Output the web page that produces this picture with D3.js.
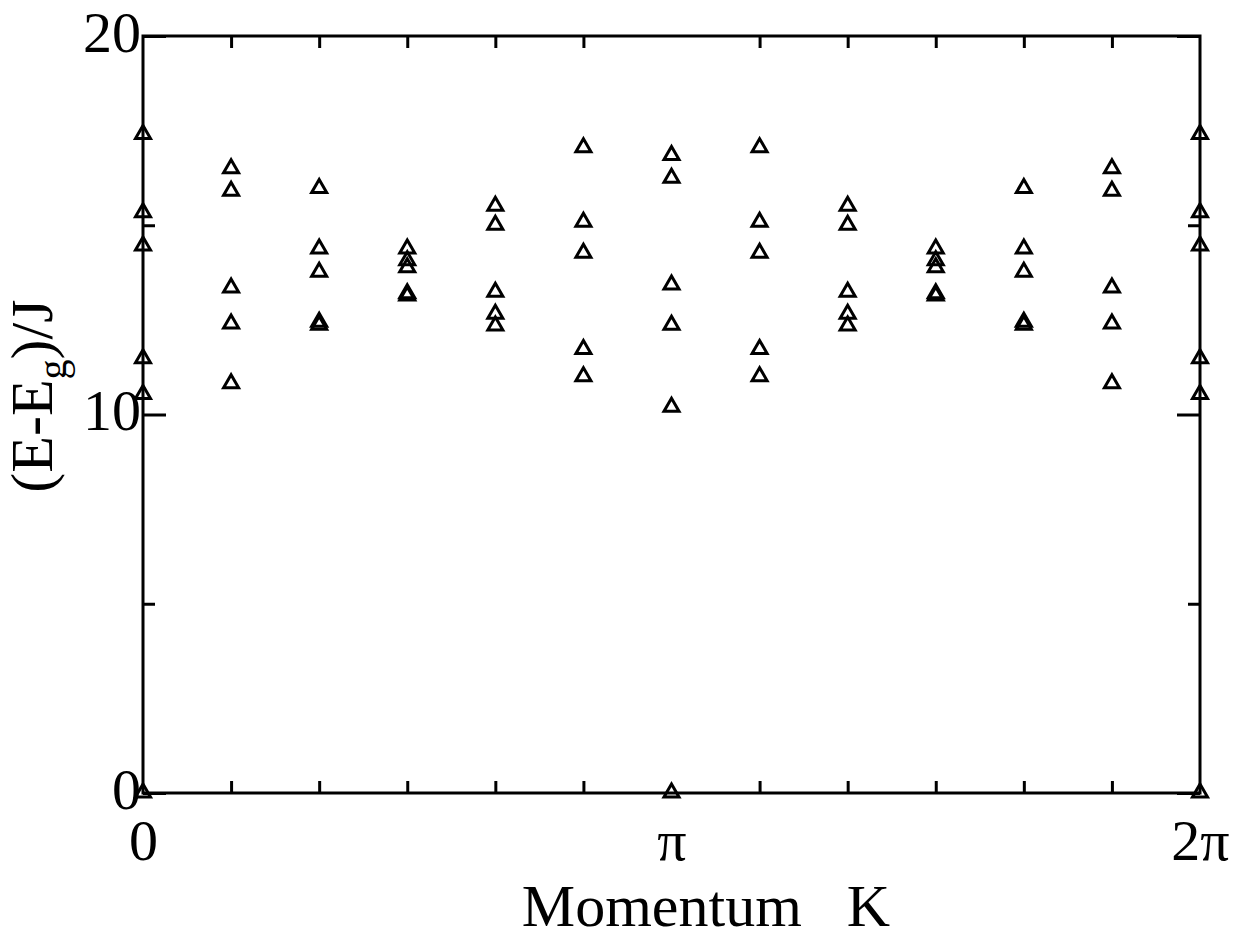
<!DOCTYPE html>
<html>
<head>
<meta charset="utf-8">
<script src="https://cdn.jsdelivr.net/npm/d3@7"></script>
<style>
  html, body { margin: 0; padding: 0; background: #fff; }
  svg { display: block; }
  text { font-family: "Liberation Serif", "Times New Roman", serif; fill: #000; }
</style>
</head>
<body>
<svg id="chart" width="1243" height="942"></svg>
<script>
// ---- data ----
// momentum in units of pi/6 (0 .. 12 => 0 .. 2pi)
const momentumSteps = [0, 1, 2, 3, 4, 5, 6, 7, 8, 9, 10, 11, 12];
// excitation energies (E - Eg)/J at each momentum
const energyLevels = [
  [17.40, 15.33, 14.45, 11.47, 10.53, 0],
  [16.49, 15.90, 13.34, 12.39, 10.81],
  [15.97, 14.37, 13.76, 12.44, 12.36],
  [14.37, 14.06, 13.88, 13.19, 13.13],
  [15.50, 15.00, 13.23, 12.65, 12.34],
  [17.05, 15.08, 14.26, 11.72, 11.00],
  [16.84, 16.24, 13.42, 12.36, 10.19, 0],
  [17.05, 15.08, 14.26, 11.72, 11.00],
  [15.50, 15.00, 13.23, 12.65, 12.34],
  [14.37, 14.06, 13.88, 13.19, 13.13],
  [15.97, 14.37, 13.76, 12.44, 12.36],
  [16.49, 15.90, 13.34, 12.39, 10.81],
  [17.40, 15.33, 14.45, 11.47, 10.53, 0]
];
const xMajorTicks = [0, 6, 12];
const xMajorLabels = ["0", "\u03c0", "2\u03c0"];
const xMinorTicks = [1, 2, 3, 4, 5, 7, 8, 9, 10, 11];
const yMajorTicks = [0, 10, 20];
const yMinorTicks = [5, 15];
const xTitle = "Momentum\u00a0\u00a0\u00a0K";

// ---- layout ----
const plotL = 143, plotR = 1200, plotT = 36, plotB = 793;
const svg = d3.select("#chart");

const x = d3.scaleLinear().domain([0, 12]).range([plotL, plotR]);
const y = d3.scaleLinear().domain([0, 20]).range([plotB, plotT]);

const points = [];
momentumSteps.forEach((k, i) => energyLevels[i].forEach(e => points.push({ k, e })));

function styleAxis(g) {
  g.select(".domain").remove();
  g.selectAll(".tick line").attr("stroke", "#000").attr("stroke-width", 3);
}

// minor ticks
svg.append("g").attr("transform", `translate(0,${plotB})`)
  .call(d3.axisBottom(x).tickValues(xMinorTicks).tickSize(-12).tickFormat(""))
  .call(styleAxis);
svg.append("g").attr("transform", `translate(0,${plotT})`)
  .call(d3.axisTop(x).tickValues(xMinorTicks).tickSize(-12).tickFormat(""))
  .call(styleAxis);
svg.append("g").attr("transform", `translate(${plotL},0)`)
  .call(d3.axisLeft(y).tickValues(yMinorTicks).tickSize(-12).tickFormat(""))
  .call(styleAxis);
svg.append("g").attr("transform", `translate(${plotR},0)`)
  .call(d3.axisRight(y).tickValues(yMinorTicks).tickSize(-12).tickFormat(""))
  .call(styleAxis);
// major y ticks
svg.append("g").attr("transform", `translate(${plotR},0)`)
  .call(d3.axisRight(y).tickValues(yMajorTicks).tickSize(-23).tickFormat(""))
  .call(styleAxis);
const yAx = svg.append("g").attr("transform", `translate(${plotL},0)`)
  .call(d3.axisLeft(y).tickValues(yMajorTicks).tickSize(-23).tickPadding(2).tickFormat(d3.format("d")))
  .call(styleAxis);
yAx.selectAll(".tick text").attr("font-size", 58).attr("font-family", null).attr("dy", "0.26em");

// x major labels
const xAx = svg.append("g").attr("transform", `translate(0,${plotB})`)
  .call(d3.axisBottom(x).tickValues(xMajorTicks).tickSize(0).tickPadding(0)
    .tickFormat((d, i) => xMajorLabels[i]))
  .call(styleAxis);
xAx.selectAll(".tick text").attr("font-size", 58).attr("font-family", null)
  .attr("y", 67).attr("dy", 0);

// frame
svg.append("rect")
  .attr("x", plotL).attr("y", plotT)
  .attr("width", plotR - plotL).attr("height", plotB - plotT)
  .attr("fill", "none").attr("stroke", "#000").attr("stroke-width", 3);

// markers (drawn above the frame)
const tri = "M0,-9 L7.5,4 L-7.5,4 Z";
svg.append("g").selectAll("path").data(points).join("path")
  .attr("d", tri)
  .attr("transform", d => `translate(${x(d.k)},${y(d.e)})`)
  .attr("fill", "none")
  .attr("stroke", "#000")
  .attr("stroke-width", 3)
  .attr("stroke-linejoin", "miter");

// axis titles
svg.append("text")
  .attr("x", 706).attr("y", 926)
  .attr("text-anchor", "middle")
  .attr("font-size", 60)
  .text(xTitle);

const yt = svg.append("text")
  .attr("transform", "translate(52,396) rotate(-90)")
  .attr("text-anchor", "middle")
  .attr("font-size", 60);
yt.append("tspan").text("(E-E");
yt.append("tspan").attr("font-size", 40).attr("dy", 14).text("g");
yt.append("tspan").attr("dy", -14).text(")/J");
</script>
</body>
</html>
